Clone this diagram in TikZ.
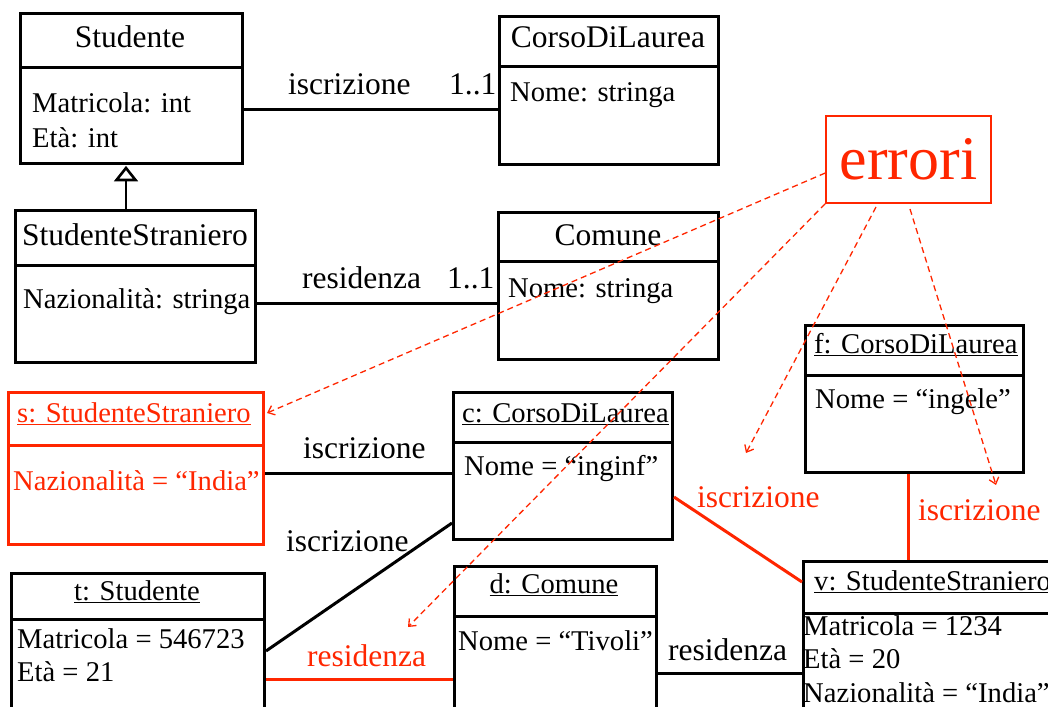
\documentclass[tikz,border=0pt]{standalone}
\usepackage{fontspec}
\setmainfont{Liberation Serif}
\usetikzlibrary{arrows.meta,calc}
\definecolor{errred}{RGB}{255,38,0}
\tikzset{
 box/.style={draw, line width=3pt, inner sep=0pt, anchor=north west, fill=white},
 rbox/.style={box, draw=errred},
 txt/.style={anchor=base west, inner sep=0pt, font=\fontsize{28.6}{34}\selectfont},
 ctxt/.style={anchor=base, inner sep=0pt, font=\fontsize{28.6}{34}\selectfont},
 ttl/.style={anchor=base, inner sep=0pt, font=\fontsize{31.5}{36}\selectfont},
 lbl/.style={anchor=base west, inner sep=0pt, font=\fontsize{31.5}{36}\selectfont},
 conn/.style={line width=3pt},
 rconn/.style={line width=3pt, draw=errred},
 errarrow/.style={draw=errred, line width=1.3pt, dash pattern=on 6pt off 4pt, -{Straight Barb[length=6pt,width=10pt]}},
}
\begin{document}
\begin{tikzpicture}[x=1pt,y=-1pt]
\clip (0,0) rectangle (1048,706);
% helper coordinates
\coordinate (inh) at (126,0);
\coordinate (ya) at (0,110);
\coordinate (yb) at (0,303);
\coordinate (yc) at (0,473);
\coordinate (yd1) at (0,651);
\coordinate (yd2) at (0,523);
\coordinate (ye) at (0,679);
\coordinate (yf) at (0,673);
\coordinate (yg1) at (0,497);
\coordinate (yg2) at (0,582);
\coordinate (xh) at (908,0);

% class boxes
\node[box, minimum width=222pt, minimum height=150pt] (stud) at (19,12) {};
\draw[line width=3pt] (stud.west |- 0,68) -- (stud.east |- 0,68);
\node[box, minimum width=219pt, minimum height=148pt] (cdl) at (498,15) {};
\draw[line width=3pt] (cdl.west |- 0,67) -- (cdl.east |- 0,67);
\node[box, minimum width=240pt, minimum height=152pt] (ss) at (14,209) {};
\draw[line width=3pt] (ss.west |- 0,265) -- (ss.east |- 0,265);
\node[box, minimum width=220pt, minimum height=147pt] (com) at (497,211) {};
\draw[line width=3pt] (com.west |- 0,261) -- (com.east |- 0,261);

% object boxes
\node[rbox, minimum width=255pt, minimum height=152pt] (sobj) at (7,391) {};
\draw[line width=3pt, errred] (sobj.west |- 0,445) -- (sobj.east |- 0,445);
\node[box, minimum width=219pt, minimum height=147pt] (cobj) at (452,391) {};
\draw[line width=3pt] (cobj.west |- 0,442) -- (cobj.east |- 0,442);
\node[box, minimum width=218pt, minimum height=147pt] (fobj) at (804,324) {};
\draw[line width=3pt] (fobj.west |- 0,375) -- (fobj.east |- 0,375);
\node[box, minimum width=253pt, minimum height=160pt] (tobj) at (10,572) {};
\draw[line width=3pt] (tobj.west |- 0,619) -- (tobj.east |- 0,619);
\node[box, minimum width=202pt, minimum height=160pt] (dobj) at (453,565) {};
\draw[line width=3pt] (dobj.west |- 0,616) -- (dobj.east |- 0,616);
\node[box, minimum width=265pt, minimum height=170pt] (vobj) at (802,560) {};
\draw[line width=3pt] (vobj.west |- 0,613) -- (vobj.east |- 0,613);

% class texts
\node[ttl] (t1) at (130,48) {Studente};
\node[txt] (t2) at (32,113) {Matricola: int};
\node[txt] (t3) at (32,147) {Età: int};
\node[ttl] (t4) at (608,48) {CorsoDiLaurea};
\node[txt] (t5) at (510,102) {Nome: stringa};
\node[ttl] (t6) at (135,245) {StudenteStraniero};
\node[txt] (t7) at (23,308) {Nazionalità: stringa};
\node[ttl] (t8) at (608,245) {Comune};
\node[txt] (t9) at (508,297) {Nome: stringa};

% object texts
\node[txt, text=errred] (o1) at (17,422) {\underline{s: StudenteStraniero}};
\node[txt, text=errred] (o2) at (13,490) {Nazionalità = “India”};
\node[txt] (o3) at (462,422) {\underline{c: CorsoDiLaurea}};
\node[txt] (o4) at (464,475) {Nome = “inginf”};
\node[txt] (o5) at (814,353) {\underline{f: CorsoDiLaurea}};
\node[txt] (o6) at (815,408) {Nome = “ingele”};
\node[ctxt] (o7) at (137,600) {\underline{t: Studente}};
\node[txt] (o8) at (17,648) {Matricola = 546723};
\node[txt] (o9) at (17,681) {Età = 21};
\node[ctxt] (o10) at (554,593) {\underline{d: Comune}};
\node[txt] (o11) at (458,650) {Nome = “Tivoli”};
\node[txt] (o12) at (814,590) {\underline{v: StudenteStraniero}};
\node[txt] (o13) at (803,635) {Matricola = 1234};
\node[txt] (o14) at (803,668) {Età = 20};
\node[txt] (o15) at (803,702) {Nazionalità = “India”};

% connectors (classes)
\coordinate (tribase) at (126,177);
\draw[line width=2.8pt] (ss.north -| inh) -- (tribase);
\draw[line width=2.6pt, line join=miter, fill=white] (stud.south -| inh) ++(0,3) -- ++(9.5,12) -- ++(-19,0) -- cycle;
\draw[conn] (stud.east |- ya) -- (cdl.west |- ya);
\draw[conn] (ss.east |- yb) -- (com.west |- yb);
\node[lbl] (l1) at (288,95) {iscrizione};
\node[lbl] (l2) at (449,95) {1..1};
\node[lbl] (l3) at (302,288) {residenza};
\node[lbl] (l4) at (447,288) {1..1};

% connectors (objects)
\draw[conn] (sobj.east |- yc) -- (cobj.west |- yc);
\draw[conn] (tobj.east |- yd1) -- (cobj.west |- yd2);
\draw[rconn] (tobj.east |- ye) -- (dobj.west |- ye);
\draw[conn] (dobj.east |- yf) -- (vobj.west |- yf);
\draw[rconn] (cobj.east |- yg1) -- (vobj.west |- yg2);
\draw[rconn] (fobj.south -| xh) -- (vobj.north -| xh);
\node[lbl] (l5) at (303,458) {iscrizione};
\node[lbl] (l6) at (286,551) {iscrizione};
\node[lbl, text=errred] (l7) at (307,666) {residenza};
\node[lbl] (l8) at (668,660) {residenza};
\node[lbl, text=errred] (l9) at (697,507) {iscrizione};
\node[lbl, text=errred] (l10) at (918,520) {iscrizione};

% errori
\node[draw=errred, line width=1.5pt, inner sep=0pt, minimum width=165pt, minimum height=87pt, text=errred, font=\fontsize{62}{70}\selectfont] (err) at (908.5,159.5) {errori};
\coordinate (tip1) at (267,413);
\coordinate (tip2) at (408,627);
\coordinate (tip3) at (746,453);
\coordinate (tip4) at (996,485);
\coordinate (e1) at (0,173);
\coordinate (e3) at (876,207);
\coordinate (e4) at (910,209);
\draw[errarrow] (err.west |- e1) -- (tip1);
\draw[errarrow] (err.south west) -- (tip2);
\draw[errarrow] (e3) -- (tip3);
\draw[errarrow] (e4) -- (tip4);
\end{tikzpicture}
\end{document}
